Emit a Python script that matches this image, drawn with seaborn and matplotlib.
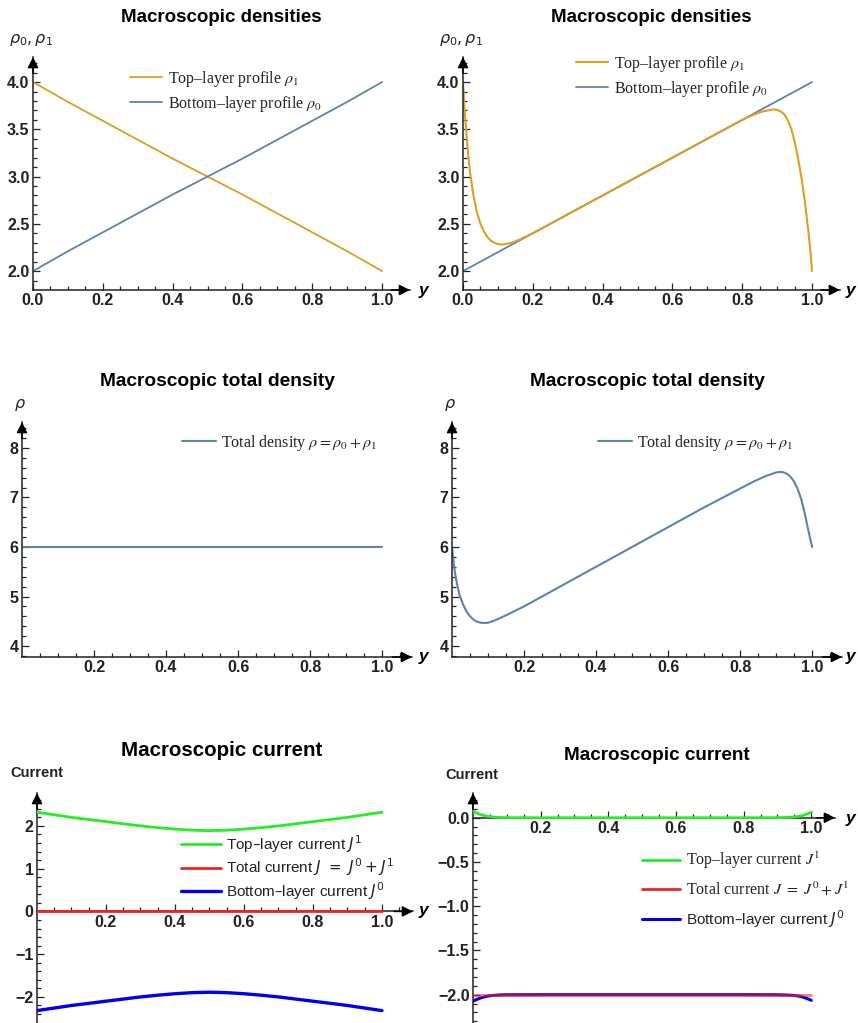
import numpy as np
import pandas as pd
import seaborn as sns
import matplotlib.pyplot as plt
from matplotlib.lines import Line2D

# ---------------- datos ----------------
# Panel 1: perfiles lineales
y_lin = [0.0, 0.1, 0.2, 0.3, 0.4, 0.5, 0.6, 0.7, 0.8, 0.9, 1.0]
rho0_lin = [2.0, 2.21, 2.41, 2.61, 2.81, 3.0, 3.19, 3.39, 3.59, 3.79, 4.0]
rho1_lin = [4.0, 3.79, 3.59, 3.39, 3.19, 3.0, 2.81, 2.61, 2.41, 2.21, 2.0]

# Panel 2: capa inferior lineal, capa superior con capas limite
y_b = [0.0, 1.0]
rho0_b = [2.0, 4.0]
y_t = [0.0, 0.005, 0.01, 0.015, 0.02, 0.03, 0.04, 0.05, 0.06, 0.07, 0.08, 0.09,
       0.10, 0.11, 0.12, 0.14, 0.16, 0.18, 0.20, 0.30, 0.40, 0.50, 0.60, 0.70,
       0.80, 0.82, 0.84, 0.86, 0.88, 0.89, 0.90, 0.91, 0.92, 0.93, 0.94, 0.95, 0.96,
       0.97, 0.98, 0.99, 0.995, 1.0]
rho1_t = [4.0, 3.68, 3.45, 3.22, 3.05, 2.80, 2.62, 2.50, 2.42, 2.36, 2.32, 2.30,
          2.285, 2.28, 2.285, 2.30, 2.33, 2.365, 2.40, 2.60, 2.80, 3.00, 3.20, 3.40,
          3.60, 3.635, 3.665, 3.69, 3.705, 3.71, 3.705, 3.69, 3.66, 3.60, 3.51, 3.37, 3.19,
          2.98, 2.72, 2.40, 2.22, 2.0]

# Panel 3 y 4: densidad total
y_const = [0.0, 1.0]
rho_const = [6.0, 6.0]
y_tot = [0.0, 0.005, 0.01, 0.02, 0.03, 0.04, 0.05, 0.06, 0.07, 0.08, 0.09, 0.10,
         0.12, 0.15, 0.20, 0.30, 0.40, 0.50, 0.60, 0.70, 0.80, 0.84, 0.87, 0.89, 0.90,
         0.91, 0.92, 0.93, 0.94, 0.95, 0.96, 0.97, 0.98, 0.99, 1.0]
rho_tot = [6.0, 5.65, 5.40, 5.05, 4.85, 4.70, 4.60, 4.53, 4.49, 4.47, 4.465, 4.47,
           4.52, 4.62, 4.80, 5.20, 5.60, 6.00, 6.40, 6.80, 7.18, 7.33, 7.43, 7.48, 7.505,
           7.515, 7.51, 7.48, 7.42, 7.32, 7.17, 6.96, 6.66, 6.32, 6.0]

# Panel 5: corrientes simetricas
y_cur = [0.0, 0.05, 0.1, 0.15, 0.2, 0.25, 0.3, 0.35, 0.4, 0.45, 0.5,
         0.55, 0.6, 0.65, 0.7, 0.75, 0.8, 0.85, 0.9, 0.95, 1.0]
J1_a = [2.32, 2.26, 2.20, 2.15, 2.10, 2.05, 2.00, 1.96, 1.925, 1.90, 1.89,
        1.90, 1.925, 1.96, 2.00, 2.05, 2.10, 2.15, 2.20, 2.26, 2.32]
J0_a = [-2.32, -2.26, -2.20, -2.15, -2.10, -2.05, -2.00, -1.96, -1.925, -1.90, -1.89,
        -1.90, -1.925, -1.96, -2.00, -2.05, -2.10, -2.15, -2.20, -2.26, -2.32]
J_a = [0.0] * 21

# Panel 6: corrientes con capas limite
y_cur2 = [0.0, 0.01, 0.02, 0.03, 0.04, 0.05, 0.06, 0.08, 0.1, 0.2, 0.3, 0.4, 0.5,
          0.6, 0.7, 0.8, 0.9, 0.92, 0.94, 0.95, 0.96, 0.97, 0.98, 0.99, 1.0]
J1_b = [0.075, 0.055, 0.040, 0.028, 0.019, 0.012, 0.008, 0.003, 0.001, 0.0, 0.0, 0.0, 0.0,
        0.0, 0.0, 0.0, 0.001, 0.003, 0.006, 0.009, 0.014, 0.022, 0.033, 0.047, 0.064]
J0_b = [-2.075, -2.055, -2.040, -2.028, -2.019, -2.012, -2.008, -2.003, -2.001, -2.0, -2.0,
        -2.0, -2.0, -2.0, -2.0, -2.0, -2.001, -2.003, -2.006, -2.009, -2.014, -2.022,
        -2.033, -2.047, -2.064]
J_b = [-2.0] * 25

ORANGE = '#E19C24'
BLUE = '#5E81B5'
GREEN = '#22EE22'
RED = '#EE2222'
DBLUE = '#0000EE'

sns.set_theme(style='white')
plt.rcParams['font.family'] = ['Liberation Sans', 'DejaVu Sans']

W, H = 858, 1023
fig = plt.figure(figsize=(W / 100, H / 100), dpi=100)


def px(x, y):
    return x / W, 1 - y / H


def make_ax(x0, x1, ytop, ybot, xlim, ylim, xaxis_at=None):
    ax = fig.add_axes([x0 / W, 1 - ybot / H, (x1 - x0) / W, (ybot - ytop) / H])
    ax.set_xlim(xlim)
    ax.set_ylim(ylim)
    ax.patch.set_alpha(0)
    for s in ['top', 'right']:
        ax.spines[s].set_visible(False)
    for s in ['left', 'bottom']:
        ax.spines[s].set_color('#222222')
        ax.spines[s].set_linewidth(1.1)
    yline = ylim[0] if xaxis_at is None else xaxis_at
    if xaxis_at is not None:
        ax.spines['bottom'].set_position(('data', xaxis_at))
    # flechas de los ejes
    ap = dict(arrowstyle='-|>', color='black', lw=1.1, mutation_scale=16,
              shrinkA=0, shrinkB=0)
    ax.annotate('', xy=(1, yline), xycoords=ax.get_yaxis_transform(),
                xytext=(0.95, yline), textcoords=ax.get_yaxis_transform(),
                arrowprops=ap, annotation_clip=False)
    ax.annotate('', xy=(0, 1), xycoords=ax.get_xaxis_transform(),
                xytext=(0, 0.93), textcoords=ax.get_xaxis_transform(),
                arrowprops=ap, annotation_clip=False)
    ax.tick_params(which='both', direction='in', color='#222222', width=0.9,
                   left=True, bottom=True)
    ax.tick_params(which='major', length=5, pad=2.5)
    ax.tick_params(which='minor', length=3)
    return ax


def fmt(v, f):
    return (f % v).replace('-', '\u2212')


def set_ticks(ax, xt, xminor, yt, yminor, yfmt):
    ax.set_xticks(xt, ['%.1f' % v for v in xt], fontweight='bold',
                  fontsize=11.5, color='#222222')
    ax.set_xticks(xminor, minor=True)
    ax.set_yticks(yt, [fmt(v, yfmt) for v in yt], fontweight='bold',
                  fontsize=11.5, color='#222222')
    ax.set_yticks(yminor, minor=True)


def titles(cx, cy, text, ylab, lx, ly, size=13.5, labsize=11.5):
    fig.text(*px(cx, cy), text, ha='center', va='center', fontsize=size,
             fontweight='bold', color='black')
    fig.text(*px(lx, ly), ylab, ha='center', va='center', fontsize=labsize,
             fontweight='bold', math_fontfamily='dejavusans', color='#222222')


def y_label(x, y):
    fig.text(*px(x, y), 'y', ha='left', va='center', fontsize=12.5,
             fontweight='bold', style='italic', color='black')


def legend(ax, handles, labels, x, y, family, size, hl, spacing, mathfont):
    leg = ax.legend(handles, labels, loc='upper left',
                    bbox_to_anchor=px(x, y), bbox_transform=fig.transFigure,
                    frameon=False, borderpad=0, borderaxespad=0,
                    handlelength=hl, handletextpad=0.35, labelspacing=spacing,
                    prop={'family': family, 'size': size})
    for t in leg.get_texts():
        t.set_math_fontfamily(mathfont)
        t.set_color('#222222')
    return leg


xt_full = [0.0, 0.2, 0.4, 0.6, 0.8, 1.0]
xt_part = [0.2, 0.4, 0.6, 0.8, 1.0]
x_minor = np.arange(0.05, 1.06, 0.05)

# ------------- Panel 1 -------------
ax1 = make_ax(33, 410, 57, 290, (0, 1.08), (1.80, 4.265))
sns.lineplot(x=y_lin, y=rho1_lin, ax=ax1, color=ORANGE, linewidth=1.3)
sns.lineplot(x=y_lin, y=rho0_lin, ax=ax1, color=BLUE, linewidth=1.3)
set_ticks(ax1, xt_full, x_minor, [2.0, 2.5, 3.0, 3.5, 4.0],
          np.arange(1.9, 4.21, 0.1), '%.1f')
titles(221, 17, 'Macroscopic densities', r'$\rho_0, \rho_1$', 31, 40)
y_label(419, 290)
legend(ax1, ax1.lines[:2], [r'Top–layer profile $\rho_1$', r'Bottom–layer profile $\rho_0$'],
       130, 69, 'Liberation Serif', 11.5, 2.0, 0.3, 'stix')

# ------------- Panel 2 -------------
ax2 = make_ax(463, 840, 57, 290, (0, 1.08), (1.80, 4.265))
sns.lineplot(x=y_b, y=rho0_b, ax=ax2, color=BLUE, linewidth=1.3)
sns.lineplot(x=y_t, y=rho1_t, ax=ax2, color=ORANGE, linewidth=1.5)
set_ticks(ax2, xt_full, x_minor, [2.0, 2.5, 3.0, 3.5, 4.0],
          np.arange(1.9, 4.21, 0.1), '%.1f')
titles(651, 17, 'Macroscopic densities', r'$\rho_0, \rho_1$', 461, 40)
y_label(846, 290)
legend(ax2, [ax2.lines[1], ax2.lines[0]],
       [r'Top–layer profile $\rho_1$', r'Bottom–layer profile $\rho_0$'],
       576, 54, 'Liberation Serif', 11.5, 2.0, 0.3, 'stix')

# ------------- Panel 3 -------------
ax3 = make_ax(22, 412, 422, 657, (0, 1.083), (3.778, 8.525))
sns.lineplot(x=y_const, y=rho_const, ax=ax3, color=BLUE, linewidth=1.5)
set_ticks(ax3, xt_part, x_minor, [4, 5, 6, 7, 8], np.arange(3.8, 8.41, 0.2), '%d')
titles(217, 382, 'Macroscopic total density', r'$\rho$', 20, 405, size=13.8)
y_label(419, 657)
legend(ax3, ax3.lines[:1], [r'Total density $\rho = \rho_0 + \rho_1$'],
       182, 433, 'Liberation Serif', 11.5, 2.1, 0.3, 'stix')

# ------------- Panel 4 -------------
ax4 = make_ax(452, 842, 422, 657, (0, 1.083), (3.778, 8.525))
sns.lineplot(x=y_tot, y=rho_tot, ax=ax4, color=BLUE, linewidth=1.5)
set_ticks(ax4, xt_part, x_minor, [4, 5, 6, 7, 8], np.arange(3.8, 8.41, 0.2), '%d')
titles(647, 382, 'Macroscopic total density', r'$\rho$', 450, 405, size=13.8)
y_label(846, 657)
legend(ax4, ax4.lines[:1], [r'Total density $\rho = \rho_0 + \rho_1$'],
       598, 433, 'Liberation Serif', 11.5, 2.1, 0.3, 'stix')

# ------------- Panel 5 -------------
ax5 = make_ax(37, 413, 793, 1023, (0, 1.09), (-2.61, 2.77), xaxis_at=0)
sns.lineplot(x=y_cur, y=J1_a, ax=ax5, color=GREEN, linewidth=2.0, zorder=5)
sns.lineplot(x=y_cur, y=J_a, ax=ax5, color=RED, linewidth=2.0, zorder=5)
sns.lineplot(x=y_cur, y=J0_a, ax=ax5, color=DBLUE, linewidth=2.4, zorder=5)
set_ticks(ax5, xt_part, x_minor, [-2, -1, 0, 1, 2], np.arange(-2.6, 2.61, 0.2), '%d')
titles(222, 750, 'Macroscopic current', 'Current', 37, 773, size=14.8, labsize=10.5)
y_label(419, 911)
legend(ax5, ax5.lines[:3],
       [r'Top–layer current $J^1$', r'Total current $J\ =\ J^0+J^1$',
        r'Bottom–layer current $J^0$'],
       181, 833, 'Liberation Sans', 11, 2.6, 0.12, 'dejavusans')

# ------------- Panel 6 -------------
ax6 = make_ax(473, 835, 793, 1023, (0, 1.07), (-2.32, 0.28), xaxis_at=0)
sns.lineplot(x=y_cur2, y=J0_b, ax=ax6, color=DBLUE, linewidth=2.2, zorder=5)
sns.lineplot(x=y_cur2, y=J_b, ax=ax6, color='#FF2020', linewidth=2.0, alpha=0.6, zorder=6)
sns.lineplot(x=y_cur2, y=J1_b, ax=ax6, color=GREEN, linewidth=2.0, zorder=5)
set_ticks(ax6, xt_part, x_minor, [-2.0, -1.5, -1.0, -0.5, 0.0],
          np.arange(-2.3, 0.21, 0.1), '%.1f')
titles(657, 755, 'Macroscopic current', 'Current', 472, 775, size=13.6, labsize=10.5)
y_label(846, 818)
red_handle = Line2D([], [], color=RED, linewidth=2.0)
leg6 = legend(ax6, [ax6.lines[2], red_handle, ax6.lines[0]],
              [r'Top–layer current $J^1$', r'Total current $J\ =\ J^0+J^1$',
               r'Bottom–layer current $J^0$'],
              642, 850, 'Liberation Serif', 11.5, 2.4, 0.6, 'stix')
leg6.get_texts()[2].set_fontfamily('Liberation Sans')
leg6.get_texts()[2].set_fontsize(11)
leg6.get_texts()[2].set_math_fontfamily('dejavusans')

fig.savefig('out.png', dpi=100)
